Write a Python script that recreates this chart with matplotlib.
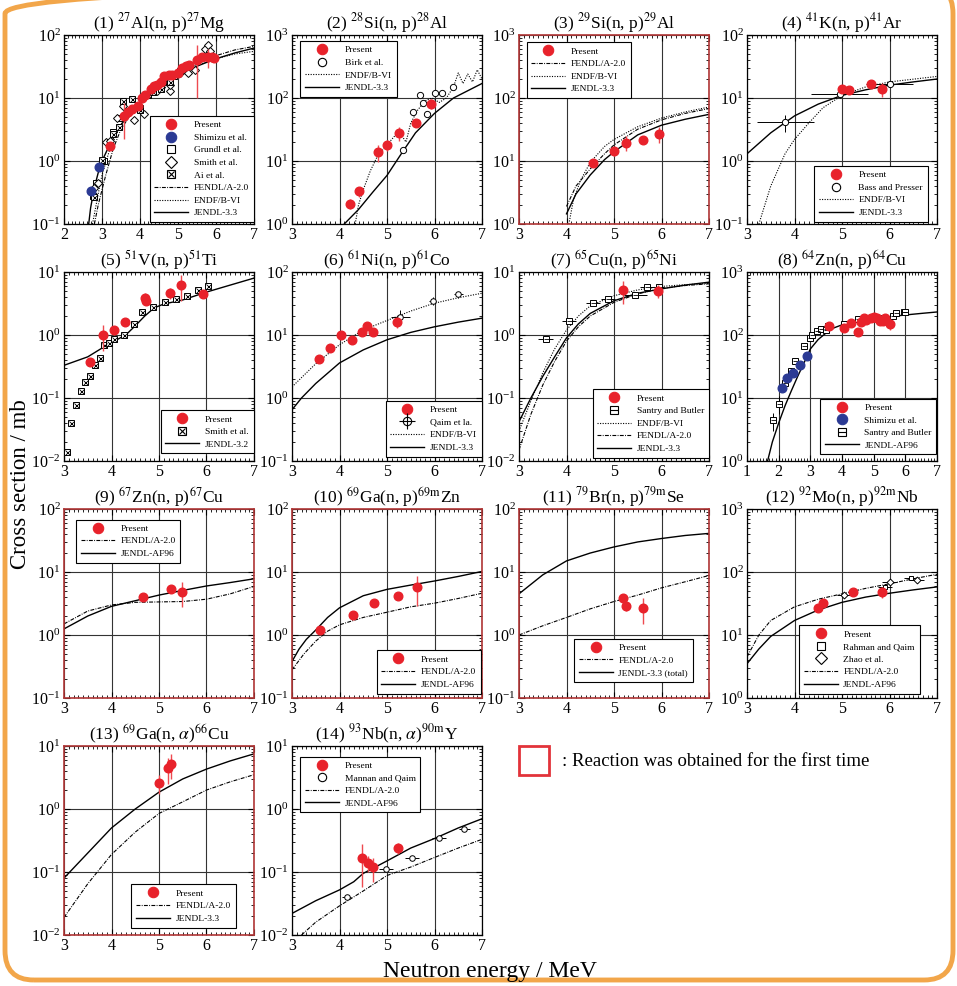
import matplotlib.pyplot as plt
from matplotlib.lines import Line2D
from matplotlib.patches import FancyBboxPatch, Rectangle
from matplotlib.ticker import LogLocator, MultipleLocator, NullFormatter

plt.rcParams['font.family'] = ['Liberation Serif', 'DejaVu Serif']
plt.rcParams['mathtext.fontset'] = 'stix'

RED = '#e8222b'
RED_ERR = '#ee4a50'
BLUE = '#2b3a94'
FRAME_RED = '#b03636'

# ---------------- datos ----------------
# (1) 27Al(n,p)27Mg
p1_pres_x = [3.20, 3.57, 3.68, 3.80, 3.95, 4.05, 4.12, 4.30, 4.38, 4.45, 4.55, 4.62,
             4.75, 4.85, 5.00, 5.10, 5.20, 5.30, 5.50, 5.62, 5.80, 5.90, 5.95]
p1_pres_y = [1.75, 5.2, 6.0, 6.8, 7.5, 10, 11, 14, 15.5, 16, 18, 22,
             23, 23, 25, 30, 32, 33, 40, 45, 45, 45, 43]
p1_pres_yerr = [0.2, 3.0, 0.6, 0.7, 0.8, 1.0, 1.0, 1.4, 1.5, 1.6, 1.8, 2.2,
                2.3, 2.3, 2.5, 3.0, 3.2, 3.3, 30, 5, 15, 5, 5]
p1_shimizu_x = [2.72, 2.93]
p1_shimizu_y = [0.33, 0.80]
p1_grundl_x = [2.75, 2.85, 3.05, 3.3, 3.5, 3.75, 4.0, 4.3, 4.6, 4.9, 5.2, 5.5, 5.8]
p1_grundl_y = [0.28, 0.45, 1.0, 2.9, 4.8, 6.5, 7.0, 13, 18, 22, 30, 40, 50]
p1_smith_x = [2.8, 2.9, 3.1, 3.2, 3.4, 3.55, 3.6, 3.85, 4.1, 4.45, 4.55, 4.8, 4.8,
              5.05, 5.25, 5.45, 5.72, 5.78, 5.85]
p1_smith_y = [0.37, 0.45, 2.0, 2.1, 4.8, 7.5, 5.5, 4.5, 5.5, 13, 15, 13, 16,
              25, 25, 28, 60, 70, 55]
p1_ai_x = [2.78, 3.0, 3.3, 3.45, 3.55, 3.8, 4.0, 4.2, 4.35, 4.55, 4.8, 5.05, 5.3]
p1_ai_y = [0.27, 1.05, 2.7, 3.5, 9.0, 9.8, 6.5, 11, 12.5, 14, 18, 27, 32]
p1_jendl_x = [2.65, 2.7, 2.8, 2.9, 3.0, 3.2, 3.5, 3.8, 4.0, 4.5, 5.0, 5.5, 6.0, 6.5, 7.0]
p1_jendl_y = [0.1, 0.18, 0.38, 0.65, 1.0, 1.8, 3.8, 6.0, 8.0, 14, 22, 32, 42, 52, 62]
p1_endf_x = [2.75, 2.9, 3.0, 3.2, 3.5, 4.0, 4.5, 5.0, 5.5, 6.0, 6.5, 7.0]
p1_endf_y = [0.1, 0.3, 0.6, 1.5, 3.8, 8.5, 15, 24, 33, 42, 50, 55]
p1_fendl_x = [2.8, 2.9, 3.0, 3.1, 3.3, 3.5, 3.8, 4.0, 4.5, 5.0, 5.5, 6.0, 6.5, 7.0]
p1_fendl_y = [0.1, 0.2, 0.35, 0.6, 1.6, 3.2, 6.0, 8.0, 15, 24, 35, 47, 58, 66]

# (2) 28Si(n,p)28Al
p2_pres_x = [4.22, 4.42, 4.80, 5.00, 5.25, 5.61, 5.93]
p2_pres_y = [2.1, 3.3, 13.7, 18, 28, 40, 81]
p2_pres_yerr = [0.4, 0.6, 4, 3.5, 7, 4, 15]
p2_birk_x = [5.34, 5.54, 5.70, 5.75, 5.85, 6.0, 6.15, 6.39]
p2_birk_y = [14.8, 59, 110, 83, 55, 120, 120, 150]
p2_jendl_x = [4.1, 4.4, 4.7, 5.0, 5.3, 5.6, 6.0, 6.4, 7.0]
p2_jendl_y = [1.0, 1.7, 3.2, 5.9, 13, 28, 57, 100, 170]
p2_endf_x = [4.33, 4.4, 4.5, 4.65, 4.8, 5.0, 5.2, 5.3, 5.4, 5.5, 5.65, 5.8, 5.95, 6.1,
             6.25, 6.4, 6.5, 6.6, 6.7, 6.8, 6.9, 7.0]
p2_endf_y = [1.0, 2.0, 3.5, 7, 12, 18, 27, 26, 20, 40, 65, 90, 100, 85,
             100, 150, 250, 170, 240, 180, 280, 200]

# (3) 29Si(n,p)29Al
p3_pres_x = [4.56, 5.0, 5.26, 5.62, 5.94]
p3_pres_y = [9.4, 14.2, 19.5, 21.8, 27]
p3_pres_yerr = [1.2, 2.0, 5.0, 2.5, 8.0]
p3_jendl_x = [4.0, 4.2, 4.5, 4.8, 5.0, 5.5, 6.0, 6.5, 7.0]
p3_jendl_y = [1.45, 3.0, 6.0, 10.5, 14, 26, 37, 46, 55]
p3_fendl_x = [4.0, 4.2, 4.5, 4.8, 5.0, 5.5, 6.0, 6.5, 7.0]
p3_fendl_y = [1.9, 4.0, 7.5, 13, 18, 32, 45, 57, 68]
p3_endf_x = [4.05, 4.15, 4.3, 4.5, 4.8, 5.0, 5.5, 6.0, 6.5, 7.0]
p3_endf_y = [1.0, 2.5, 5.0, 9.5, 17, 22, 35, 48, 60, 72]

# (4) 41K(n,p)41Ar
p4_pres_x = [5.0, 5.15, 5.6, 5.85]
p4_pres_y = [14.1, 13.6, 16.6, 14.0]
p4_pres_yerr = [1.5, 1.5, 1.7, 3.5]
p4_bass_x = [3.8, 4.95, 6.0]
p4_bass_y = [4.1, 11.5, 16.6]
p4_bass_xerr = [0.6, 0.6, 0.5]
p4_bass_yerr = [1.2, 1.5, 1.5]
p4_jendl_x = [3.0, 3.5, 4.0, 4.5, 5.0, 5.5, 6.0, 6.5, 7.0]
p4_jendl_y = [1.3, 2.8, 5.2, 8.0, 11, 13.5, 16, 18, 20]
p4_endf_x = [3.25, 3.5, 3.8, 4.0, 4.3, 4.6, 5.0, 5.5, 6.0, 7.0]
p4_endf_y = [0.1, 0.4, 1.3, 2.2, 4.0, 7.0, 11, 15, 18, 22]

# (5) 51V(n,p)51Ti
p5_pres_x = [3.55, 3.82, 4.05, 4.29, 4.70, 4.73, 5.24, 5.47, 5.93]
p5_pres_y = [0.377, 1.0, 1.2, 1.6, 3.8, 3.5, 4.6, 6.2, 4.4]
p5_pres_yerr = [0.06, 0.45, 0.2, 0.2, 0.8, 0.5, 0.9, 2.7, 0.6]
p5_smith_x = [3.06, 3.15, 3.25, 3.35, 3.45, 3.55, 3.65, 3.75, 3.85, 3.95, 4.05, 4.27,
              4.47, 4.65, 4.87, 5.13, 5.35, 5.6, 5.82, 6.03]
p5_smith_y = [0.014, 0.04, 0.078, 0.13, 0.18, 0.227, 0.34, 0.435, 0.70, 0.75, 0.86,
              1.0, 1.48, 2.3, 2.8, 3.3, 3.7, 4.2, 5.2, 5.9]
p5_jendl_x = [3.0, 3.5, 3.8, 4.0, 4.3, 4.5, 4.7, 4.9, 5.1, 5.5, 6.0, 6.5, 7.0]
p5_jendl_y = [0.33, 0.45, 0.62, 0.76, 1.0, 1.4, 2.0, 2.7, 3.1, 3.6, 4.8, 6.2, 8.0]

# (6) 61Ni(n,p)61Co
p6_pres_x = [3.56, 3.81, 4.04, 4.27, 4.48, 4.58, 4.70, 5.21]
p6_pres_y = [4.2, 6.2, 10, 8.2, 11, 13.7, 11, 15.8]
p6_pres_yerr = [0.4, 0.6, 1.0, 0.8, 1.1, 1.5, 1.1, 3.0]
p6_qaim_x = [5.28, 5.96, 6.5]
p6_qaim_y = [19.6, 34.7, 44]
p6_qaim_xerr = [0.2, 0.08, 0.1]
p6_qaim_yerr = [5.0, 5.0, 5.0]
p6_endf_x = [3.0, 3.5, 4.0, 4.5, 5.0, 5.5, 6.0, 6.5, 7.0]
p6_endf_y = [1.5, 3.5, 7.0, 12, 17, 24, 32, 39, 46]
p6_jendl_x = [3.0, 3.2, 3.5, 4.0, 4.5, 5.0, 5.5, 6.0, 6.5, 7.0]
p6_jendl_y = [0.65, 1.0, 1.7, 3.6, 5.8, 8.4, 11, 13.5, 16, 18.5]

# (7) 65Cu(n,p)65Ni
p7_pres_x = [5.18, 5.93]
p7_pres_y = [5.1, 5.0]
p7_pres_yerr = [2.0, 1.2]
p7_santry_x = [3.56, 4.05, 4.56, 4.88, 5.45, 5.7, 5.95]
p7_santry_y = [0.87, 1.68, 3.25, 3.7, 4.35, 5.7, 5.8]
p7_santry_xerr = [0.15, 0.15, 0.15, 0.15, 0.25, 0.15, 0.1]
p7_jendl_x = [3.0, 3.25, 3.5, 3.75, 4.0, 4.25, 4.5, 5.0, 5.5, 6.0, 6.5, 7.0]
p7_jendl_y = [0.042, 0.1, 0.22, 0.45, 0.9, 1.5, 2.2, 3.5, 4.6, 5.4, 6.2, 6.9]
p7_fendl_x = [3.0, 3.25, 3.5, 3.75, 4.0, 4.25, 4.5, 5.0, 5.5, 6.0, 6.5, 7.0]
p7_fendl_y = [0.015, 0.055, 0.16, 0.38, 0.8, 1.35, 2.0, 3.3, 4.5, 5.5, 6.1, 6.5]
p7_endf_x = [3.0, 3.25, 3.5, 3.75, 4.0, 4.25, 4.5, 5.0, 5.5, 6.0, 6.5, 7.0]
p7_endf_y = [0.03, 0.09, 0.25, 0.6, 1.2, 2.0, 2.9, 4.2, 5.2, 5.9, 6.3, 6.6]

# (8) 64Zn(n,p)64Cu
p8_pres_x = [3.6, 4.05, 4.28, 4.5, 4.6, 4.68, 4.75, 4.9, 5.0, 5.1, 5.2, 5.3, 5.35, 5.5]
p8_pres_y = [138, 127, 155, 110, 160, 188, 172, 188, 190, 185, 168, 168, 188, 152]
p8_pres_yerr = [10, 10, 12, 9, 12, 14, 13, 14, 14, 14, 13, 13, 14, 30]
p8_shimizu_x = [2.09, 2.26, 2.45, 2.68, 2.9]
p8_shimizu_y = [14.4, 20.6, 24.7, 33.6, 47]
p8_santry_x = [1.82, 2.0, 2.2, 2.38, 2.5, 2.8, 2.98, 3.05, 3.2, 3.35, 3.5, 3.55,
               4.05, 4.5, 4.75, 5.0, 5.3, 5.6, 5.7, 5.95, 6.0]
p8_santry_y = [4.4, 8.1, 17.6, 27, 39, 68, 91, 100, 116, 124, 118, 140,
               150, 180, 185, 185, 185, 200, 220, 230, 230]
p8_santry_yerr = [1.4, 2.5, 1.5, 2, 3, 5, 6, 6, 7, 7, 7, 8, 8, 9, 9, 9, 9, 10, 11, 11, 11]
p8_jendl_x = [1.65, 1.8, 2.0, 2.2, 2.4, 2.6, 2.8, 3.0, 3.25, 3.5, 3.75, 4.0, 4.5,
              5.0, 5.5, 6.0, 6.5, 7.0]
p8_jendl_y = [1.0, 2.0, 4.0, 7.5, 13, 22, 36, 60, 85, 108, 130, 145, 165,
              180, 195, 208, 220, 232]

# (9) 67Zn(n,p)67Cu
p9_pres_x = [4.66, 5.25, 5.48]
p9_pres_y = [4.0, 5.4, 4.9]
p9_pres_yerr = [0.4, 0.6, 2.1]
p9_jendl_x = [3.0, 3.5, 4.0, 4.5, 5.0, 5.5, 6.0, 6.5, 7.0]
p9_jendl_y = [1.25, 2.0, 2.85, 3.5, 4.3, 5.1, 6.0, 6.8, 7.8]
p9_fendl_x = [3.0, 3.5, 4.0, 4.5, 5.0, 5.5, 6.0, 6.5, 7.0]
p9_fendl_y = [1.5, 2.4, 3.0, 3.3, 3.35, 3.4, 3.7, 4.5, 5.9]

# (10) 69Ga(n,p)69mZn
p10_pres_x = [3.58, 4.29, 4.73, 5.24, 5.63]
p10_pres_y = [1.22, 2.1, 3.2, 4.2, 5.7]
p10_pres_yerr = [0.15, 0.25, 0.35, 0.45, 2.8]
p10_jendl_x = [3.0, 3.15, 3.3, 3.5, 3.75, 4.0, 4.5, 5.0, 5.5, 6.0, 6.5, 7.0]
p10_jendl_y = [0.38, 0.6, 0.85, 1.2, 1.9, 2.7, 4.2, 5.3, 6.2, 7.2, 8.5, 10.2]
p10_fendl_x = [3.0, 3.25, 3.5, 3.75, 4.0, 4.5, 5.0, 5.5, 6.0, 6.5, 7.0]
p10_fendl_y = [0.28, 0.5, 0.8, 1.15, 1.45, 1.9, 2.3, 2.8, 3.2, 3.8, 4.6]

# (11) 79Br(n,p)79mSe
p11_pres_x = [5.18, 5.25, 5.62]
p11_pres_y = [3.8, 2.85, 2.7]
p11_pres_yerr = [0.6, 0.45, 1.2]
p11_jendl_x = [3.0, 3.5, 4.0, 4.5, 5.0, 5.5, 6.0, 6.5, 7.0]
p11_jendl_y = [4.5, 9.0, 15, 20, 25, 30, 34, 38, 41]
p11_fendl_x = [3.0, 3.5, 4.0, 4.5, 5.0, 5.5, 6.0, 6.5, 7.0]
p11_fendl_y = [1.0, 1.4, 1.9, 2.6, 3.4, 4.3, 5.6, 7.0, 8.8]

# (12) 92Mo(n,p)92mNb
p12_pres_x = [4.5, 4.59, 5.24, 5.84]
p12_pres_y = [26.8, 32, 47.5, 48]
p12_pres_yerr = [3, 4, 5, 9]
p12_rahman_x = [5.9, 6.45]
p12_rahman_y = [57, 80]
p12_zhao_x = [5.05, 6.0, 6.58]
p12_zhao_y = [43, 70, 75]
p12_fendl_x = [3.0, 3.25, 3.5, 4.0, 4.5, 5.0, 5.5, 6.0, 6.5, 7.0]
p12_fendl_y = [4.5, 10, 17, 28, 37, 45, 55, 65, 78, 92]
p12_jendl_x = [3.0, 3.25, 3.5, 4.0, 4.5, 5.0, 5.5, 6.0, 6.5, 7.0]
p12_jendl_y = [3.5, 6.0, 9.5, 17, 25, 33, 40, 46, 52, 58]

# (13) 69Ga(n,a)66Cu
p13_pres_x = [5.0, 5.18, 5.25]
p13_pres_y = [2.6, 4.5, 5.2]
p13_pres_yerr = [0.9, 2.0, 2.2]
p13_jendl_x = [3.0, 3.5, 4.0, 4.5, 5.0, 5.5, 6.0, 6.5, 7.0]
p13_jendl_y = [0.08, 0.2, 0.5, 1.0, 1.85, 3.0, 4.3, 5.8, 7.5]
p13_fendl_x = [3.0, 3.5, 4.0, 4.5, 5.0, 5.5, 6.0, 6.5, 7.0]
p13_fendl_y = [0.019, 0.065, 0.19, 0.43, 0.85, 1.3, 2.0, 2.7, 3.5]

# (14) 93Nb(n,a)90mY
p14_pres_x = [4.48, 4.59, 4.71, 5.24]
p14_pres_y = [0.167, 0.139, 0.119, 0.24]
p14_pres_yerr = [0.11, 0.04, 0.05, 0.05]
p14_mannan_x = [4.15, 4.98, 5.52, 6.1, 6.63]
p14_mannan_y = [0.04, 0.11, 0.167, 0.35, 0.48]
p14_mannan_xerr = [0.1, 0.15, 0.15, 0.15, 0.12]
p14_jendl_x = [3.0, 3.5, 4.0, 4.3, 4.5, 5.0, 5.5, 6.0, 6.5, 7.0]
p14_jendl_y = [0.022, 0.035, 0.052, 0.07, 0.095, 0.15, 0.24, 0.34, 0.5, 0.7]
p14_fendl_x = [3.2, 3.5, 4.0, 4.5, 5.0, 5.5, 6.0, 6.5, 7.0]
p14_fendl_y = [0.01, 0.016, 0.029, 0.05, 0.088, 0.12, 0.17, 0.24, 0.33]

# ---------------- estilos ----------------
JENDL = dict(color='black', lw=1.0, ls='-')
ENDF = dict(color='black', lw=0.8, ls=(0, (1, 1.3)))
FENDL = dict(color='black', lw=0.8, ls=(0, (3.5, 1.2, 0.8, 1.2)))

LEG = dict(fontsize=6.8, frameon=True, fancybox=False, edgecolor='black',
           framealpha=1, handlelength=3.6, handletextpad=0.6, borderpad=0.5,
           labelspacing=0.42, borderaxespad=0)


def h_line(st):
    return Line2D([], [], **st)


def h_mark(marker, ms=6.5, **kw):
    d = dict(mfc='white', mec='black', mew=0.8)
    d.update(kw)
    return Line2D([], [], ls='none', marker=marker, ms=ms, **d)


h_present = h_mark('o', ms=7.5, mfc=RED, mec=RED)
h_shimizu = h_mark('o', ms=7.5, mfc=BLUE, mec=BLUE)
h_square = h_mark('s', ms=6)
h_diamond = h_mark('D', ms=6)
h_circle = h_mark('o', ms=6)
h_ai = (h_mark('s', ms=6), h_mark('x', ms=5, color='black'))
h_santry = (h_mark('s', ms=6), h_mark('_', ms=6, color='black'))
h_qaim = (h_mark('o', ms=6), h_mark('+', ms=11, color='black'))


def style(ax, title, xlim, ylim, red=False):
    ax.set_yscale('log')
    ax.set_xlim(xlim)
    ax.set_ylim(ylim)
    ax.set_xticks(range(xlim[0], xlim[1] + 1))
    ax.xaxis.set_minor_locator(MultipleLocator(0.1))
    ax.yaxis.set_major_locator(LogLocator(base=10, numticks=10))
    ax.yaxis.set_minor_locator(LogLocator(base=10, subs=range(2, 10), numticks=10))
    ax.yaxis.set_minor_formatter(NullFormatter())
    ax.tick_params(which='both', direction='in', top=True, right=True,
                   labelsize=11.5, pad=2.5)
    ax.tick_params(which='major', length=4, width=0.8)
    ax.tick_params(which='minor', length=2, width=0.6)
    ax.grid(True, which='major', color='#333333', lw=0.8)
    ax.set_axisbelow(True)
    ax.set_title(title, fontsize=12.5, pad=3)
    for s in ax.spines.values():
        s.set_linewidth(1.2 if red else 0.9)
        s.set_color(FRAME_RED if red else 'black')


def present(ax, x, y, yerr, xerr=0.06):
    ax.errorbar(x, y, xerr=xerr, yerr=yerr, fmt='o', color=RED, ms=6.2,
                ecolor=RED_ERR, elinewidth=1.0, capsize=0, zorder=6)


def open_mark(ax, x, y, marker='o', ms=4, xerr=None, yerr=None):
    if xerr is not None or yerr is not None:
        ax.errorbar(x, y, xerr=xerr, yerr=yerr, fmt='none', ecolor='black',
                    elinewidth=0.7, capsize=0, zorder=4)
    ax.plot(x, y, ls='none', marker=marker, mfc='white', mec='black', ms=ms,
            mew=0.7, zorder=5)


def boxed(ax, x, y, inner, ms=4, xerr=None, yerr=None):
    open_mark(ax, x, y, 's', ms, xerr, yerr)
    ax.plot(x, y, ls='none', marker=inner, color='black', ms=ms * 0.9, mew=0.6, zorder=5)


def legend(ax, handles, labels, loc, anchor):
    leg = ax.legend(handles, labels, loc=loc, bbox_to_anchor=anchor, **LEG)
    leg.get_frame().set_linewidth(0.8)
    leg.set_zorder(10)


# ---------------- figura ----------------
W, H = 957, 986
fig = plt.figure(figsize=(W / 100, H / 100), dpi=100)
lefts = [64, 292, 519, 747]
tops = [35, 272, 509, 746]
aw, ah = 190, 189
axes = []
for i in range(14):
    r, c = divmod(i, 4)
    axes.append(fig.add_axes([lefts[c] / W, 1 - (tops[r] + ah) / H, aw / W, ah / H]))

# (1)
ax = axes[0]
style(ax, r'(1) $^{27}$Al(n, p)$^{27}$Mg', (2, 7), (0.1, 100))
ax.plot(p1_fendl_x, p1_fendl_y, **FENDL)
ax.plot(p1_endf_x, p1_endf_y, **ENDF)
ax.plot(p1_jendl_x, p1_jendl_y, **JENDL)
open_mark(ax, p1_grundl_x, p1_grundl_y, 's', 4)
open_mark(ax, p1_smith_x, p1_smith_y, 'D', 4.5)
boxed(ax, p1_ai_x, p1_ai_y, 'x', 4)
ax.errorbar(p1_shimizu_x, p1_shimizu_y, xerr=0.08, fmt='o', color=BLUE, ms=6.2,
            elinewidth=0.8, capsize=0, zorder=6)
present(ax, p1_pres_x, p1_pres_y, p1_pres_yerr, 0.05)
legend(ax, [h_present, h_shimizu, h_square, h_diamond, h_ai,
            h_line(FENDL), h_line(ENDF), h_line(JENDL)],
       ['Present', 'Shimizu et al.', 'Grundl et al.', 'Smith et al.', 'Ai et al.',
        'FENDL/A-2.0', 'ENDF/B-VI', 'JENDL-3.3'], 'lower right', (1.0, 0.01))

# (2)
ax = axes[1]
style(ax, r'(2) $^{28}$Si(n, p)$^{28}$Al', (3, 7), (1, 1000))
ax.plot(p2_endf_x, p2_endf_y, **ENDF)
ax.plot(p2_jendl_x, p2_jendl_y, **JENDL)
open_mark(ax, p2_birk_x, p2_birk_y, 'o', 4.5)
present(ax, p2_pres_x, p2_pres_y, p2_pres_yerr)
legend(ax, [h_present, h_circle, h_line(ENDF), h_line(JENDL)],
       ['Present', 'Birk et al.', 'ENDF/B-VI', 'JENDL-3.3'], 'upper left', (0.044, 0.968))

# (3)
ax = axes[2]
style(ax, r'(3) $^{29}$Si(n, p)$^{29}$Al', (3, 7), (1, 1000), red=True)
ax.plot(p3_fendl_x, p3_fendl_y, **FENDL)
ax.plot(p3_endf_x, p3_endf_y, **ENDF)
ax.plot(p3_jendl_x, p3_jendl_y, **JENDL)
present(ax, p3_pres_x, p3_pres_y, p3_pres_yerr)
legend(ax, [h_present, h_line(FENDL), h_line(ENDF), h_line(JENDL)],
       ['Present', 'FENDL/A-2.0', 'ENDF/B-VI', 'JENDL-3.3'], 'upper left', (0.04, 0.961))

# (4)
ax = axes[3]
style(ax, r'(4) $^{41}$K(n, p)$^{41}$Ar', (3, 7), (0.1, 100))
ax.plot(p4_endf_x, p4_endf_y, **ENDF)
ax.plot(p4_jendl_x, p4_jendl_y, **JENDL)
open_mark(ax, p4_bass_x, p4_bass_y, 'o', 4.5, p4_bass_xerr, p4_bass_yerr)
present(ax, p4_pres_x, p4_pres_y, p4_pres_yerr)
legend(ax, [h_present, h_circle, h_line(ENDF), h_line(JENDL)],
       ['Present', 'Bass and Presser', 'ENDF/B-VI', 'JENDL-3.3'], 'lower right', (0.951, 0.012))

# (5)
ax = axes[4]
style(ax, r'(5) $^{51}$V(n, p)$^{51}$Ti', (3, 7), (0.01, 10))
ax.plot(p5_jendl_x, p5_jendl_y, **JENDL)
boxed(ax, p5_smith_x, p5_smith_y, 'x', 4, xerr=0.06)
present(ax, p5_pres_x, p5_pres_y, p5_pres_yerr)
legend(ax, [h_present, h_ai, h_line(JENDL)],
       ['Present', 'Smith et al.', 'JENDL-3.2'], 'lower right', (1.0, 0.04))

# (6)
ax = axes[5]
style(ax, r'(6) $^{61}$Ni(n, p)$^{61}$Co', (3, 7), (0.1, 100))
ax.plot(p6_endf_x, p6_endf_y, **ENDF)
ax.plot(p6_jendl_x, p6_jendl_y, **JENDL)
open_mark(ax, p6_qaim_x, p6_qaim_y, 'o', 4, p6_qaim_xerr, p6_qaim_yerr)
present(ax, p6_pres_x, p6_pres_y, p6_pres_yerr)
legend(ax, [h_present, h_qaim, h_line(ENDF), h_line(JENDL)],
       ['Present', 'Qaim et la.', 'ENDF/B-VI', 'JENDL-3.3'], 'lower right', (1.0, 0.023))

# (7)
ax = axes[6]
style(ax, r'(7) $^{65}$Cu(n, p)$^{65}$Ni', (3, 7), (0.01, 10))
ax.plot(p7_endf_x, p7_endf_y, **ENDF)
ax.plot(p7_fendl_x, p7_fendl_y, **FENDL)
ax.plot(p7_jendl_x, p7_jendl_y, **JENDL)
boxed(ax, p7_santry_x, p7_santry_y, '_', 4, xerr=p7_santry_xerr)
present(ax, p7_pres_x, p7_pres_y, p7_pres_yerr)
legend(ax, [h_present, h_santry, h_line(ENDF), h_line(FENDL), h_line(JENDL)],
       ['Present', 'Santry and Butler', 'ENDF/B-VI', 'FENDL/A-2.0', 'JENDL-3.3'],
       'lower right', (1.0, 0.017))

# (8)
ax = axes[7]
style(ax, r'(8) $^{64}$Zn(n, p)$^{64}$Cu', (1, 7), (1, 1000))
ax.plot(p8_jendl_x, p8_jendl_y, **JENDL)
boxed(ax, p8_santry_x, p8_santry_y, '_', 4, yerr=p8_santry_yerr)
ax.plot(p8_shimizu_x, p8_shimizu_y, 'o', color=BLUE, ms=6.2, zorder=6)
present(ax, p8_pres_x, p8_pres_y, p8_pres_yerr)
legend(ax, [h_present, h_shimizu, h_santry, h_line(JENDL)],
       ['Present', 'Shimizu et al.', 'Santry and Butler', 'JENDL-AF96'],
       'lower right', (0.997, 0.035))

# (9)
ax = axes[8]
style(ax, r'(9) $^{67}$Zn(n, p)$^{67}$Cu', (3, 7), (0.1, 100), red=True)
ax.plot(p9_fendl_x, p9_fendl_y, **FENDL)
ax.plot(p9_jendl_x, p9_jendl_y, **JENDL)
present(ax, p9_pres_x, p9_pres_y, p9_pres_yerr)
legend(ax, [h_present, h_line(FENDL), h_line(JENDL)],
       ['Present', 'FENDL/A-2.0', 'JENDL-AF96'], 'upper left', (0.063, 0.944))

# (10)
ax = axes[9]
style(ax, r'(10) $^{69}$Ga(n, p)$^{69\mathrm{m}}$Zn', (3, 7), (0.1, 100), red=True)
ax.plot(p10_fendl_x, p10_fendl_y, **FENDL)
ax.plot(p10_jendl_x, p10_jendl_y, **JENDL)
present(ax, p10_pres_x, p10_pres_y, p10_pres_yerr)
legend(ax, [h_present, h_line(FENDL), h_line(JENDL)],
       ['Present', 'FENDL/A-2.0', 'JENDL-AF96'], 'lower right', (0.995, 0.023))

# (11)
ax = axes[10]
style(ax, r'(11) $^{79}$Br(n, p)$^{79\mathrm{m}}$Se', (3, 7), (0.1, 100), red=True)
ax.plot(p11_fendl_x, p11_fendl_y, **FENDL)
ax.plot(p11_jendl_x, p11_jendl_y, **JENDL)
present(ax, p11_pres_x, p11_pres_y, p11_pres_yerr)
legend(ax, [h_present, h_line(FENDL), h_line(JENDL)],
       ['Present', 'FENDL/A-2.0', 'JENDL-3.3 (total)'], 'lower right', (0.914, 0.085))

# (12)
ax = axes[11]
style(ax, r'(12) $^{92}$Mo(n, p)$^{92\mathrm{m}}$Nb', (3, 7), (1, 1000))
ax.plot(p12_fendl_x, p12_fendl_y, **FENDL)
ax.plot(p12_jendl_x, p12_jendl_y, **JENDL)
open_mark(ax, p12_rahman_x, p12_rahman_y, 's', 3.5, xerr=0.15)
open_mark(ax, p12_zhao_x, p12_zhao_y, 'D', 3.5, xerr=0.15)
present(ax, p12_pres_x, p12_pres_y, p12_pres_yerr)
legend(ax, [h_present, h_square, h_diamond, h_line(FENDL), h_line(JENDL)],
       ['Present', 'Rahman and Qaim', 'Zhao et al.', 'FENDL/A-2.0', 'JENDL-AF96'],
       'lower right', (0.908, 0.023))

# (13)
ax = axes[12]
style(ax, r'(13) $^{69}$Ga(n, $\alpha$)$^{66}$Cu', (3, 7), (0.01, 10), red=True)
ax.plot(p13_fendl_x, p13_fendl_y, **FENDL)
ax.plot(p13_jendl_x, p13_jendl_y, **JENDL)
present(ax, p13_pres_x, p13_pres_y, p13_pres_yerr)
legend(ax, [h_present, h_line(FENDL), h_line(JENDL)],
       ['Present', 'FENDL/A-2.0', 'JENDL-3.3'], 'lower right', (0.903, 0.039))

# (14)
ax = axes[13]
style(ax, r'(14) $^{93}$Nb(n, $\alpha$)$^{90\mathrm{m}}$Y', (3, 7), (0.01, 10))
ax.plot(p14_fendl_x, p14_fendl_y, **FENDL)
ax.plot(p14_jendl_x, p14_jendl_y, **JENDL)
open_mark(ax, p14_mannan_x, p14_mannan_y, 'o', 4, xerr=p14_mannan_xerr)
present(ax, p14_pres_x, p14_pres_y, p14_pres_yerr)
legend(ax, [h_present, h_circle, h_line(FENDL), h_line(JENDL)],
       ['Present', 'Mannan and Qaim', 'FENDL/A-2.0', 'JENDL-AF96'], 'upper left', (0.044, 0.944))

# etiquetas comunes
fig.text(490 / W, 1 - 977 / H, 'Neutron energy / MeV', fontsize=17, ha='center', va='baseline')
fig.text(21 / W, 1 - 484 / H, 'Cross section / mb', fontsize=16.5, rotation=90,
         ha='center', va='center')

# nota de los recuadros rojos
fig.patches.append(Rectangle((519 / W, 1 - 775 / H), 30 / W, 29 / H, fill=False,
                             edgecolor='#e2333a', lw=2, transform=fig.transFigure))
fig.text(562 / W, 1 - 761 / H, ': Reaction was obtained for the first time',
         fontsize=13.5, ha='left', va='center')

# marco naranja redondeado
fig.patches.append(FancyBboxPatch((5 / W, 1 - 980 / H), 948 / W, 996 / H,
                                  boxstyle='round,pad=0,rounding_size=0.03',
                                  fill=False, edgecolor='#f2a64a', lw=3.5,
                                  transform=fig.transFigure, clip_on=False))

plt.savefig('out.png', dpi=100)
